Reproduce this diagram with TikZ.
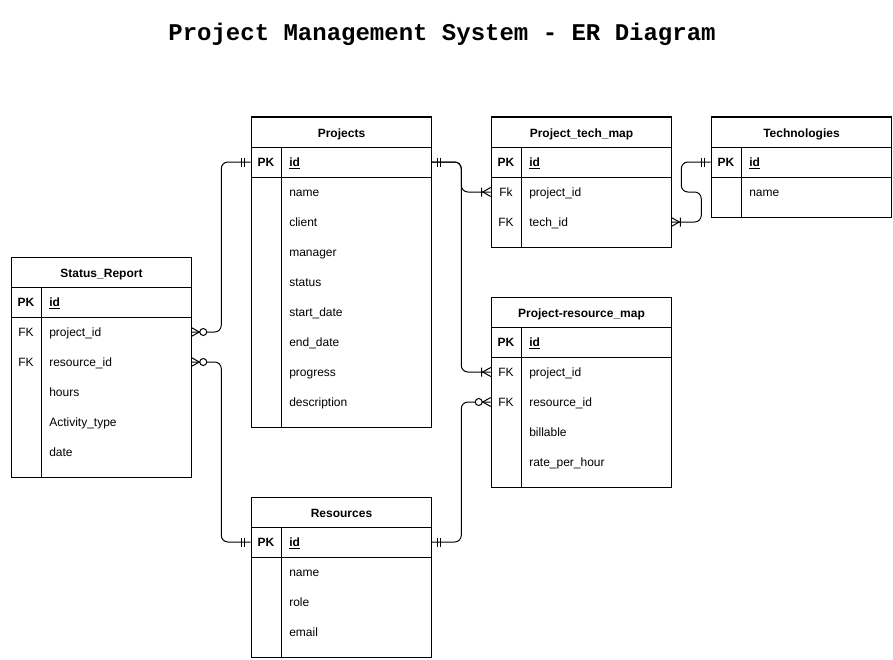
\documentclass[tikz,border=0pt]{standalone}
\usepackage{fontspec}
\setmainfont{Liberation Sans}
\newfontfamily\titlefont{Liberation Mono}
\tikzset{
  hdr/.style={draw, line width=0.75pt, minimum width=135pt, minimum height=22.5pt, inner sep=0pt, text height=8.5pt, text depth=1.5pt, font=\fontsize{9}{11}\selectfont\bfseries},
  rowbox/.style={minimum width=135pt, minimum height=22.5pt, inner sep=0pt},
  keytxt/.style={font=\fontsize{9}{11}\selectfont, inner sep=0pt, text height=8.5pt, text depth=1.5pt},
  fldtxt/.style={font=\fontsize{9}{11}\selectfont, inner sep=0pt, anchor=west, text height=8.5pt, text depth=1.5pt},
  frame/.style={line width=0.75pt},
  conn/.style={draw, line width=0.75pt, rounded corners=5pt},
  mk/.style={line width=0.75pt}
}
\newcommand\erframe[5]{%
  \node[hdr, anchor=north west] (#1) at (#2,#3) {#4};
  \draw[frame] (#2,#3) rectangle (#2+180,#5);
  \draw[frame] (#2,#3+60) -- (#2+180,#3+60);
  \draw[frame] (#2+30,#3+30) -- (#2+30,#5);
}
\newcommand\erow[5]{%
  \node[rowbox] (#1) at (#2+90,#3+15) {};
  \node[keytxt] at (#2+15,#3+15) {#4};
  \node[fldtxt] at (#2+38,#3+15) {#5};
}
\newcommand\mkone[2]{\begin{scope}[shift={(#1)},xscale=#2]\draw[mk] (6,-4.5)--(6,4.5) (9,-4.5)--(9,4.5);\end{scope}}
\newcommand\mkonemany[2]{\begin{scope}[shift={(#1)},xscale=#2]\draw[mk] (0,-4.5)--(8,0)--(0,4.5) (9,-4.5)--(9,4.5);\end{scope}}
\newcommand\mkzeromany[2]{\begin{scope}[shift={(#1)},xscale=#2]\draw[mk] (0,-4.5)--(8,0)--(0,4.5);\draw[mk,fill=white] (12,0) circle[radius=3.5];\end{scope}}
\begin{document}
\begin{tikzpicture}[x=0.75pt,y=-0.75pt]
\useasboundingbox (0,0) rectangle (893,660);
\fill[white] (0,0) rectangle (893,660);
\node[font=\titlefont\bfseries\fontsize{18}{20}\selectfont] (title) at (442,34) {Project Management System - ER Diagram};

% Projects
\erframe{Projects}{251}{117}{Projects}{427}
\erow{Pid}{251}{147}{\bfseries PK}{\bfseries\underline{id}}
\erow{Pname}{251}{177}{}{name}
\erow{Pclient}{251}{207}{}{client}
\erow{Pmanager}{251}{237}{}{manager}
\erow{Pstatus}{251}{267}{}{status}
\erow{Pstart}{251}{297}{}{start\_date}
\erow{Pend}{251}{327}{}{end\_date}
\erow{Pprog}{251}{357}{}{progress}
\erow{Pdesc}{251}{387}{}{description}

% Project_tech_map
\erframe{PTM}{491}{117}{Project\_tech\_map}{247}
\erow{PTMid}{491}{147}{\bfseries PK}{\bfseries\underline{id}}
\erow{PTMpid}{491}{177}{Fk}{project\_id}
\erow{PTMtid}{491}{207}{FK}{tech\_id}

% Technologies
\erframe{Tech}{711}{117}{Technologies}{217}
\erow{Tid}{711}{147}{\bfseries PK}{\bfseries\underline{id}}
\erow{Tname}{711}{177}{}{name}

% Status_Report
\erframe{SR}{11}{257}{Status\_Report}{477}
\erow{SRid}{11}{287}{\bfseries PK}{\bfseries\underline{id}}
\erow{SRpid}{11}{317}{FK}{project\_id}
\erow{SRrid}{11}{347}{FK}{resource\_id}
\erow{SRhours}{11}{377}{}{hours}
\erow{SRact}{11}{407}{}{Activity\_type}
\erow{SRdate}{11}{437}{}{date}

% Project-resource_map
\erframe{PRM}{491}{297}{Project-resource\_map}{487}
\erow{PRMid}{491}{327}{\bfseries PK}{\bfseries\underline{id}}
\erow{PRMpid}{491}{357}{FK}{project\_id}
\erow{PRMrid}{491}{387}{FK}{resource\_id}
\erow{PRMbill}{491}{417}{}{billable}
\erow{PRMrate}{491}{447}{}{rate\_per\_hour}

% Resources
\erframe{Res}{251}{497}{Resources}{657}
\erow{Rid}{251}{527}{\bfseries PK}{\bfseries\underline{id}}
\erow{Rname}{251}{557}{}{name}
\erow{Rrole}{251}{587}{}{role}
\erow{Remail}{251}{617}{}{email}

% connectors
\draw[conn] (SRpid.east) -- ++(30,0) |- (Pid.west);
\draw[conn] (SRrid.east) -- ++(30,0) |- (Rid.west);
\draw[conn] (Pid.east) -- ++(30,0) |- (PTMpid.west);
\draw[conn] (Pid.east) -- ++(30,0) |- (PRMpid.west);
\draw[conn] (Rid.east) -- ++(30,0) |- (PRMrid.west);
\draw[conn] (PTMtid.east) -- ++(30,0) -- ++(0,-30) -- ++(-20,0) |- (Tid.west);

% markers
\mkzeromany{SRpid.east}{1}
\mkone{Pid.west}{-1}
\mkzeromany{SRrid.east}{1}
\mkone{Rid.west}{-1}
\mkone{Pid.east}{1}
\mkonemany{PTMpid.west}{-1}
\mkonemany{PRMpid.west}{-1}
\mkone{Rid.east}{1}
\mkzeromany{PRMrid.west}{-1}
\mkonemany{PTMtid.east}{1}
\mkone{Tid.west}{-1}
\end{tikzpicture}
\end{document}
